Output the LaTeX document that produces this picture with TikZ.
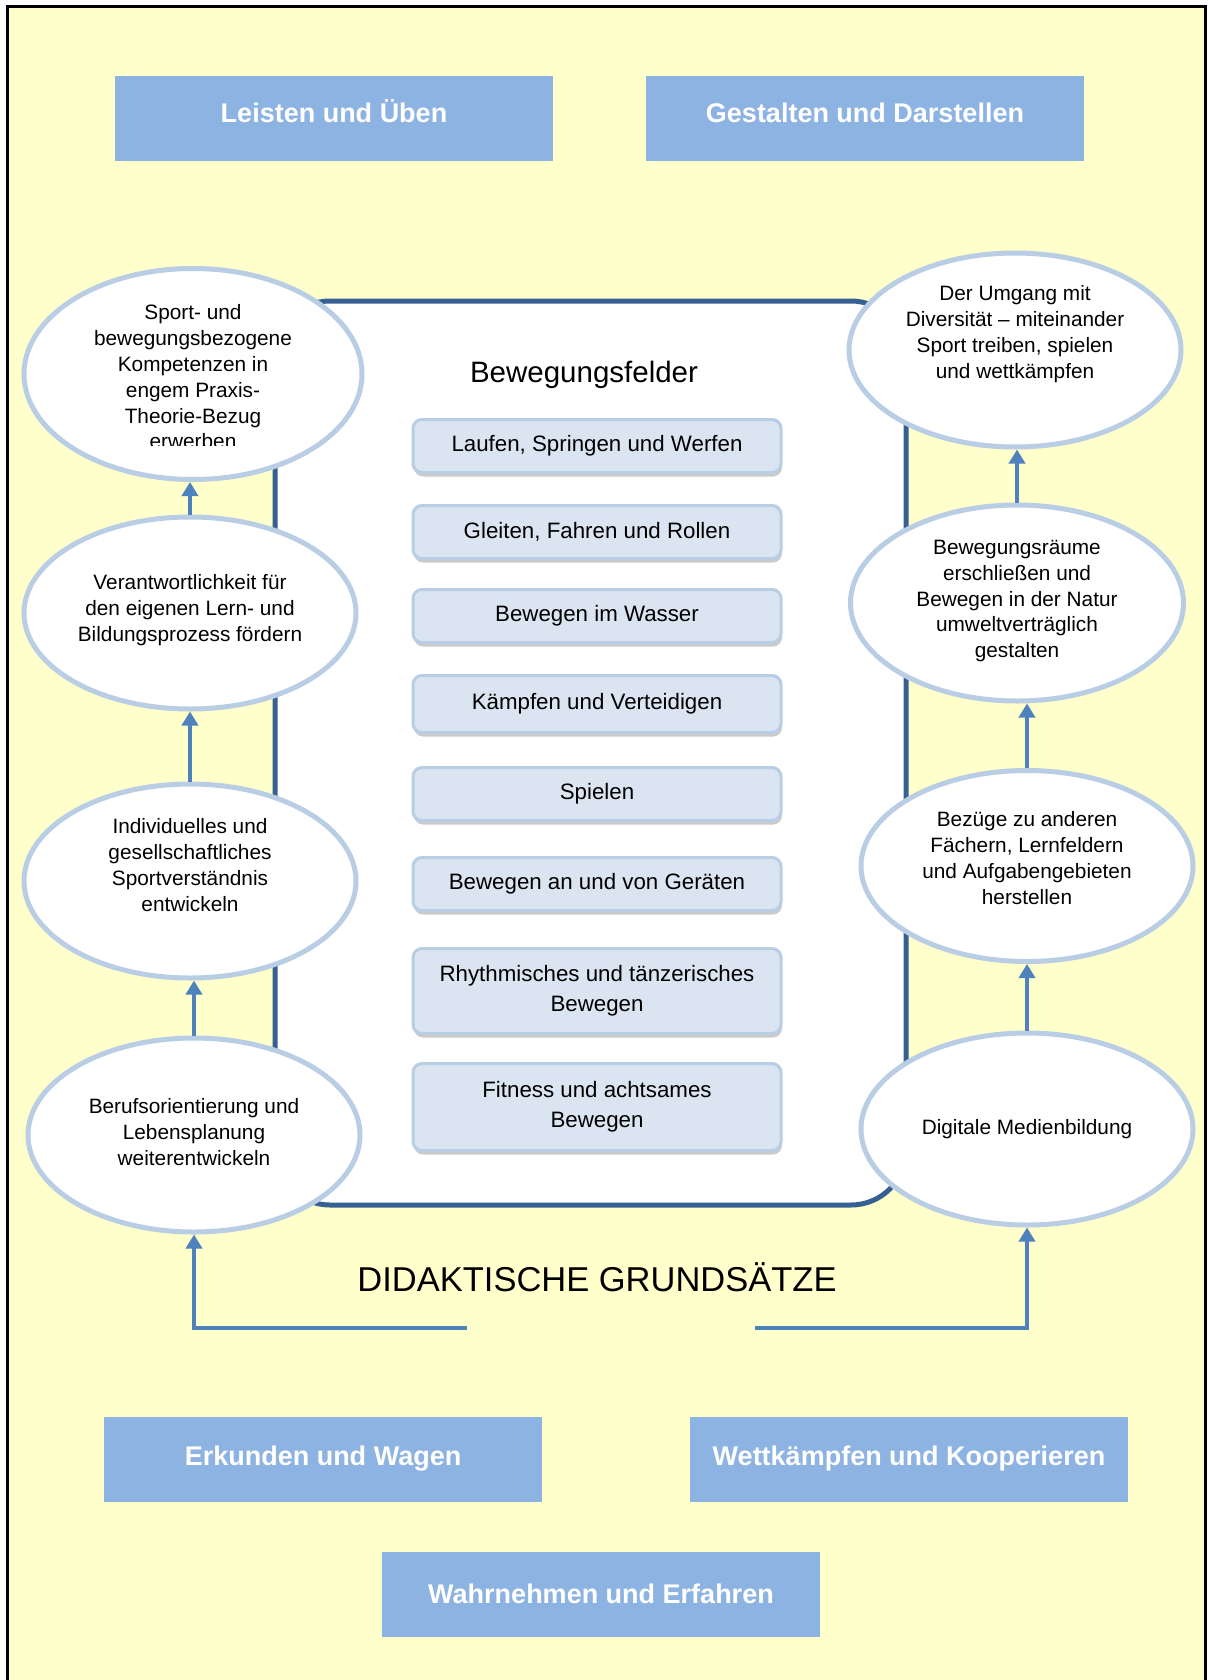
\documentclass[tikz,border=0pt]{standalone}
\usepackage{fontspec}
\setmainfont{Liberation Sans}
\usetikzlibrary{shapes.geometric,shadows,arrows.meta}
\definecolor{bgyellow}{HTML}{FFFFCC}
\definecolor{boxblue}{HTML}{8DB3E2}
\definecolor{framblue}{HTML}{376092}
\definecolor{arrblue}{HTML}{4F81BD}
\definecolor{ellblue}{HTML}{B9CDE5}
\definecolor{fieldfill}{HTML}{DBE5F1}
\begin{document}
\begin{tikzpicture}[x=1pt,y=-1pt,
 catbox/.style={fill=boxblue, minimum width=438pt, minimum height=85pt, inner sep=0pt, text=white, font=\fontsize{27}{32}\selectfont\bfseries},
 catboxup/.style={catbox, text height=20pt, text depth=12pt},
 ell/.style={ellipse, draw=ellblue, line width=5pt, fill=white, inner sep=0pt},
 elltext/.style={align=center, inner sep=0pt, font=\fontsize{20.8}{25.8}\selectfont},
 field/.style={rounded corners=9pt, draw=ellblue, line width=3pt, fill=fieldfill, minimum width=368pt, inner sep=0pt, align=center, font=\fontsize{22.3}{30}\selectfont, drop shadow={shadow xshift=1pt, shadow yshift=-4pt, fill=black!45, opacity=0.45}},
 arr/.style={draw=arrblue, line width=4.5pt, -{Triangle[length=14pt,width=16pt]}},
]
\useasboundingbox (0,0) rectangle (1207,1680);
% background and frame
\fill[bgyellow] (7,7) rectangle (1205,1690);
\draw[black, line width=3pt] (7,1690) -- (7,7) -- (1205,7) -- (1205,1690);

% category boxes
\node[catboxup] (leisten) at (334,118.5) {Leisten und Üben};
\node[catboxup] (gestalten) at (865,118.5) {Gestalten und Darstellen};
\node[catbox] (erkunden) at (323,1459) {Erkunden und Wagen};
\node[catbox] (wettk) at (909,1459) {Wettkämpfen und Kooperieren};
\node[catbox] (wahrn) at (601,1594) {Wahrnehmen und Erfahren};

% central frame
\node[draw=framblue, line width=5pt, fill=white, rounded corners=55pt, minimum width=631pt, minimum height=904pt, inner sep=0pt] (bf) at (590.5,753) {};
\node[font=\fontsize{29.5}{34}\selectfont, inner sep=0pt] (bftitle) at (584,375) {Bewegungsfelder};

% fields
\node[field, minimum height=53pt] (f1) at (597,446) {Laufen, Springen und Werfen};
\node[field, minimum height=53pt] (f2) at (597,532) {Gleiten, Fahren und Rollen};
\node[field, minimum height=53pt] (f3) at (597,616) {Bewegen im Wasser};
\node[field, minimum height=57pt] (f4) at (597,704) {Kämpfen und Verteidigen};
\node[field, minimum height=53pt] (f5) at (597,794) {Spielen};
\node[field, minimum height=53pt] (f6) at (597,884) {Bewegen an und von Geräten};
\node[field, minimum height=85pt] (f7) at (597,991) {Rhythmisches und tänzerisches\\Bewegen};
\node[field, minimum height=87pt] (f8) at (597,1107) {Fitness und achtsames\\Bewegen};

% left ellipses
\node[ell, minimum width=338pt, minimum height=211pt] (e1) at (193,374) {};
\node[ell, minimum width=332pt, minimum height=192pt] (e2) at (190,613) {};
\node[ell, minimum width=332pt, minimum height=194pt] (e3) at (190,881) {};
\node[ell, minimum width=332pt, minimum height=194pt] (e4) at (194,1135) {};
% right ellipses
\node[ell, minimum width=332pt, minimum height=194pt] (r1) at (1015,350) {};
\node[ell, minimum width=333pt, minimum height=196pt] (r2) at (1017,603) {};
\node[ell, minimum width=332pt, minimum height=191pt] (r3) at (1027,866) {};
\node[ell, minimum width=332pt, minimum height=192pt] (r4) at (1027,1129) {};

% ellipse texts
\begin{scope}
\clip (0,0) rectangle (1207,445);
\node[elltext] (e1t) at (193,377) {Sport- und\\bewegungsbezogene\\Kompetenzen in\\engem Praxis-\\Theorie-Bezug\\erwerben};
\end{scope}
\node[elltext] (e2t) at (190,610) {Verantwortlichkeit für\\den eigenen Lern- und\\Bildungsprozess fördern};
\node[elltext] (e3t) at (190,865) {Individuelles und\\gesellschaftliches\\Sportverständnis\\entwickeln};
\node[elltext] (e4t) at (194,1132) {Berufsorientierung und\\Lebensplanung\\weiterentwickeln};
\node[elltext] (r1t) at (1015,334) {Der Umgang mit\\Diversität – miteinander\\Sport treiben, spielen\\und wettkämpfen};
\node[elltext] (r2t) at (1017,601) {Bewegungsräume\\erschließen und\\Bewegen in der Natur\\umweltverträglich\\gestalten};
\node[elltext] (r3t) at (1027,858) {Bezüge zu anderen\\Fächern, Lernfeldern\\und Aufgabengebieten\\herstellen};
\node[elltext] (r4t) at (1027,1129) {Digitale Medienbildung};

% arrows between ellipses
\draw[arr] (e2.north) -- (e2.north |- e1.south);
\draw[arr] (e3.north) -- (e3.north |- e2.south);
\draw[arr] (e4.north) -- (e4.north |- e3.south);
\draw[arr] (r4.north) -- (r4.north |- r3.south);
\draw[arr] (r3.north) -- (r3.north |- r2.south);
\draw[arr] (r2.north) -- (r2.north |- r1.south);

% didactic principles
\node[font=\fontsize{34.5}{40}\selectfont, inner sep=0pt] (dg) at (597,1277) {DIDAKTISCHE GRUNDSÄTZE};
\coordinate (bl) at (467,1328);
\coordinate (br) at (755,1328);
\draw[arr] (bl) -- (bl -| e4.south) -- (e4.south);
\draw[arr] (br) -- (br -| r4.south) -- (r4.south);
\end{tikzpicture}
\end{document}
